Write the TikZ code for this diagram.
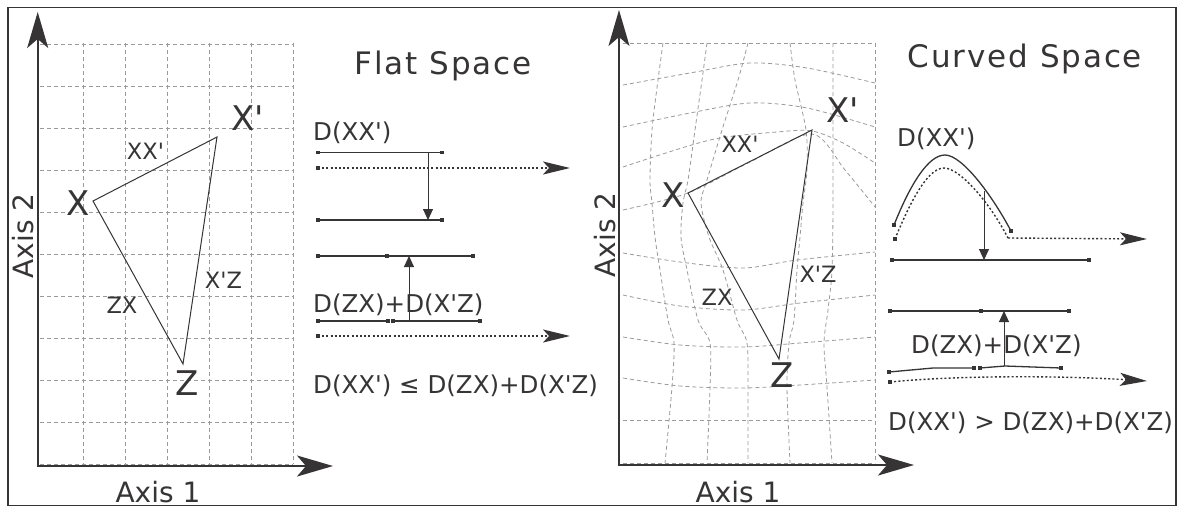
\documentclass[tikz,border=0pt]{standalone}
\usepackage{fontspec}
\setmainfont{DejaVu Sans}
\newfontfamily\titlefont[LetterSpace=6]{DejaVu Sans}
\usetikzlibrary{arrows.meta}
\definecolor{ink}{HTML}{363435}
\definecolor{gridc}{HTML}{9A9A9A}
\newcommand{\myq}{\textquotesingle}
\begin{document}
\begin{tikzpicture}[x=1pt,y=-1pt,
  axis/.style={line width=2pt, draw=ink, -{Stealth[length=36pt,width=21pt,inset=9pt]}},
  gridline/.style={draw=gridc, line width=0.8pt, dash pattern=on 4pt off 3pt},
  tri/.style={draw=ink, line width=1pt},
  seg/.style={draw=ink, line width=1.3pt},
  dotl/.style={draw=ink, line width=1.4pt, dash pattern=on 2pt off 2.2pt},
  dotarrow/.style={dotl, -{Stealth[length=27pt,width=13pt,inset=6pt]}},
  smallarrow/.style={draw=ink, line width=1pt, -{Triangle[length=11pt,width=10pt]}},
  sq/.style={rectangle, fill=ink, minimum size=3.5pt, inner sep=0pt},
  big/.style={text=ink, font=\fontsize{34}{34}\selectfont, inner sep=0pt, anchor=base},
  lab/.style={text=ink, font=\fontsize{22.5}{22.5}\selectfont, inner sep=0pt, anchor=base},
  dtext/.style={text=ink, font=\fontsize{24.5}{24.5}\selectfont, inner sep=0pt, anchor=base west},
  axlab/.style={text=ink, font=\fontsize{28}{28}\selectfont, inner sep=0pt, anchor=base},
  titlestyle/.style={text=ink, font=\titlefont\fontsize{31}{31}\selectfont, inner sep=0pt, anchor=base},
]
\useasboundingbox (0,0) rectangle (1181,507);
\fill[white] (0,0) rectangle (1181,507);
\draw[ink, line width=1.5pt] (8,7.5) rectangle (1176,505.5);

% ---------------- Left panel: flat grid ----------------
\foreach \gx in {83,125,167,209,251,293} {\draw[gridline] (\gx,43) -- (\gx,464);}
\foreach \gy in {44,86,128,170,212,254,296,338,380,422,464} {\draw[gridline] (40,\gy) -- (293,\gy);}

\coordinate (LO) at (37.7,466);
\coordinate (LOx) at (36.7,466);
\coordinate (Ltop) at (37.7,12);
\coordinate (Lright) at (333,466);
\draw[axis] (LO) -- (Ltop);
\draw[axis] (LOx) -- (Lright);
\node[axlab, rotate=90] (Lax2) at (33,236) {Axis 2};
\node[axlab] (Lax1) at (158,502) {Axis 1};

\coordinate (LX) at (93,201);
\coordinate (LXp) at (217,137);
\coordinate (LZ) at (183,364);
\draw[tri] (LX) -- (LXp) -- (LZ) -- cycle;
\node[big] (tLX) at (78,215) {X};
\node[big] (tLXp) at (248,130) {X\myq};
\node[big] (tLZ) at (187,395) {Z};
\node[lab] (tLXX) at (145.5,159) {XX\myq};
\node[lab] (tLZX) at (122,313) {ZX};
\node[lab] (tLXZ) at (223.5,288) {X\myq Z};

% ---------------- Flat-space distances ----------------
\node[titlestyle] (flat) at (443,74) {Flat Space};
\node[dtext] (fd1) at (313,140) {D(XX\myq)};
\coordinate (fa1) at (318,152.7); \coordinate (fb1) at (442,152.7);
\coordinate (fc1) at (318,168);   \coordinate (fe1) at (570,168);
\coordinate (fa2) at (318,220);   \coordinate (fb2) at (442,220);
\coordinate (fm1) at (428,152.7); \coordinate (fm2) at (428,220);
\draw[seg] (fa1) -- (fb1);
\draw[dotarrow] (fc1) -- (fe1);
\draw[seg] (fa2) -- (fb2);
\draw[smallarrow] (fm1) -- (fm2);
\foreach \p in {fa1,fb1,fc1,fa2,fb2} {\node[sq] at (\p) {};}

\coordinate (fa3) at (318,256); \coordinate (fm3) at (387,256); \coordinate (fb3) at (473,256);
\draw[seg] (fa3) -- (fm3) -- (fb3);
\node[dtext] (fd2) at (313,312) {D(ZX)+D(X\myq Z)};
\coordinate (fa4) at (318,321); \coordinate (fb4) at (388,321);
\coordinate (fc4) at (393,321); \coordinate (fe4) at (480,321);
\draw[seg] (fa4) -- (fb4);
\draw[seg] (fc4) -- (fe4);
\coordinate (fu1) at (409,321); \coordinate (fu2) at (409,256);
\draw[smallarrow] (fu1) -- (fu2);
\coordinate (fc5) at (318,336); \coordinate (fe5) at (570,336);
\draw[dotarrow] (fc5) -- (fe5);
\foreach \p in {fa3,fm3,fb3,fa4,fb4,fc4,fe4,fc5} {\node[sq] at (\p) {};}
\node[dtext] (fd3) at (313,393) {D(XX\myq) ≤ D(ZX)+D(X\myq Z)};

% ---------------- Right panel: curved grid ----------------
\draw[gridline] (623,43) -- (875,43);
\draw[gridline] plot[smooth] coordinates {(623,85) (690,73) (750,63) (807,68) (875,83)};
\draw[gridline] plot[smooth] coordinates {(623,127) (690,113) (750,103) (807,108) (875,127)};
\draw[gridline] plot[smooth] coordinates {(623,167) (710,140) (777,132) (812,131) (843,143) (875,163)};
\draw[gridline] plot[smooth] coordinates {(623,210) (688,193) (750,162) (812,134) (845,170) (875,207)};
\draw[gridline] plot[smooth] coordinates {(623,253) (680,262) (743,268) (797,260) (875,252)};
\draw[gridline] plot[smooth] coordinates {(623,295) (680,306) (743,310) (800,303) (875,295)};
\draw[gridline] plot[smooth] coordinates {(623,337) (680,345) (743,347) (800,343) (875,337)};
\draw[gridline] plot[smooth] coordinates {(623,378) (680,386) (743,388) (800,385) (875,380)};
\draw[gridline] (623,420) -- (875,420);
\draw[gridline] (623,463) -- (875,463);

\draw[gridline] plot[smooth] coordinates {(663,43) (658,80) (652,130) (650,180) (652,203) (655,237) (660,270) (668,320) (674,343) (672,387) (665,463)};
\draw[gridline] plot[smooth] coordinates {(707,43) (702,80) (695,130) (688,180) (683,203) (681,237) (687,270) (698,320) (710,343) (710,387) (707,463)};
\draw[gridline] plot[smooth] coordinates {(748,43) (738,80) (722,130) (707,180) (701,203) (709,237) (723,270) (737,320) (747,343) (748,387) (748,463)};
\draw[gridline] plot[smooth] coordinates {(790,43) (795,80) (806,130) (807,170) (803,203) (800,237) (797,270) (794,320) (789,343) (787,387) (790,463)};
\draw[gridline] plot[smooth] coordinates {(833,43) (833,200) (832,270) (828,310) (824,343) (827,387) (832,463)};
\draw[gridline] (875,43) -- (875,463);

\coordinate (RO) at (619,465);
\coordinate (ROx) at (618,465);
\coordinate (Rtop) at (619,10);
\coordinate (Rright) at (914,465);
\draw[axis] (RO) -- (Rtop);
\draw[axis] (ROx) -- (Rright);
\node[axlab, rotate=90] (Rax2) at (615,235) {Axis 2};
\node[axlab] (Rax1) at (738,502) {Axis 1};

\coordinate (RX) at (688,193);
\coordinate (RXp) at (812,130);
\coordinate (RZ) at (779,359);
\draw[tri] (RX) -- (RXp) -- (RZ) -- cycle;
\node[big] (tRX) at (673,207) {X};
\node[big] (tRXp) at (843,122) {X\myq};
\node[big] (tRZ) at (782,387) {Z};
\node[lab] (tRXX) at (740,152) {XX\myq};
\node[lab] (tRZX) at (717,305) {ZX};
\node[lab] (tRXZ) at (818,282) {X\myq Z};

% ---------------- Curved-space distances ----------------
\node[titlestyle] (curved) at (1025,67) {Curved Space};
\node[dtext] (cd1) at (897,146) {D(XX\myq)};
\coordinate (ca1) at (894,225); \coordinate (cb1) at (1011,231);
\draw[seg] (ca1) .. controls (910,185) and (928,155) .. (945,155)
               .. controls (962,155) and (992,195) .. (cb1);
\coordinate (cc1) at (895,239); \coordinate (ck1) at (1008,238); \coordinate (ce1) at (1147,239);
\draw[dotl] (cc1) .. controls (911,200) and (928,168) .. (944,168)
               .. controls (960,168) and (990,203) .. (ck1);
\draw[dotarrow] (ck1) -- (ce1);
\coordinate (ca2) at (892,260); \coordinate (cb2) at (1089,260);
\draw[seg] (ca2) -- (cb2);
\coordinate (cm1) at (984,191); \coordinate (cm2) at (984,260);
\draw[smallarrow] (cm1) -- (cm2);
\foreach \p in {ca1,cb1,cc1,ca2,cb2} {\node[sq] at (\p) {};}

\coordinate (ca3) at (890,311); \coordinate (cm3) at (981,311); \coordinate (cb3) at (1069,311);
\draw[seg] (ca3) -- (cm3) -- (cb3);
\node[dtext] (cd2) at (911,353) {D(ZX)+D(X\myq Z)};
\coordinate (ca4) at (889,372); \coordinate (ck4) at (933,368); \coordinate (cb4) at (974,368);
\coordinate (cc4) at (980,368); \coordinate (cl4) at (1005,366); \coordinate (ce4) at (1061,368);
\draw[seg] (ca4) -- (ck4) -- (cb4);
\draw[seg] (cc4) -- (cl4) -- (ce4);
\coordinate (cu1) at (1004,366); \coordinate (cu2) at (1004,311);
\draw[smallarrow] (cu1) -- (cu2);
\coordinate (cc5) at (890,382); \coordinate (ce5) at (1147,381);
\draw[dotarrow] (cc5) .. controls (950,376) and (1050,375) .. (ce5);
\foreach \p in {ca3,cm3,cb3,ca4,cb4,cc4,ce4,cc5} {\node[sq] at (\p) {};}
\node[dtext] (cd3) at (888,430) {D(XX\myq) > D(ZX)+D(X\myq Z)};
\end{tikzpicture}
\end{document}
